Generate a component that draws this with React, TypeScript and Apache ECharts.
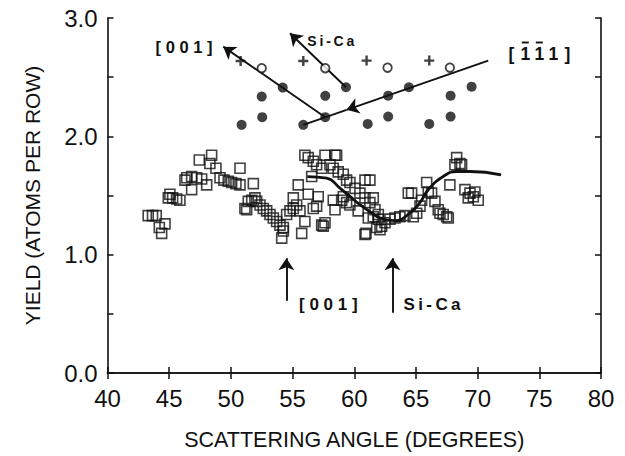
import React, { useEffect, useRef } from "react";
import * as echarts from "echarts";

// Measured channeling yield (open squares)
const squareX = [
  43.3, 43.65, 43.95, 44.2, 44.66, 44.39, 45.06, 45.28, 45.6, 45.87, 44.93, 46.82, 46.42, 46.82, 47.23, 47.63,
  48.04, 46.28, 47.44, 48.44, 48.3, 48.79, 50.74, 49.12, 49.44, 49.79, 50.06, 50.41, 50.74, 51.82, 51.14, 51.41,
  51.69, 51.95, 51.28, 52.09, 52.36, 52.63, 52.9, 53.17, 53.44, 53.71, 53.98, 54.25, 54.12, 54.25, 54.52, 54.79,
  55.06, 55.33, 55.6, 56.0, 55.74, 55.06, 55.46, 56.0, 56.27, 56.68, 56.95, 57.36, 57.63, 58.44, 58.57, 56.55,
  56.27, 56.68, 56.95, 57.08, 57.36, 57.63, 58.03, 58.3, 58.7, 59.11, 59.38, 59.65, 60.06, 60.46, 60.87, 61.27,
  61.68, 61.95, 60.87, 58.44, 58.3, 58.98, 59.11, 60.32, 61.14, 60.87, 59.38, 59.65, 61.27, 61.54, 61.54, 61.95,
  62.22, 62.49, 62.89, 63.3, 63.7, 64.11, 61.82, 62.09, 64.38, 64.65, 65.06, 64.78, 65.46, 65.87, 66.0, 66.27,
  66.54, 65.33, 66.81, 66.95, 67.21, 67.49, 67.62, 67.75, 68.3, 68.16, 68.57, 68.7, 68.97, 69.38, 69.78, 69.65,
  70.05, 69.24, 57.49, 60.95,
];
const squareY = [
  1.33, 1.33, 1.33, 1.23, 1.26, 1.18, 1.51, 1.48, 1.47, 1.46, 1.48, 1.55, 1.65, 1.66, 1.65, 1.64,
  1.59, 1.63, 1.8, 1.84, 1.77, 1.73, 1.73, 1.65, 1.63, 1.62, 1.61, 1.6, 1.59, 1.6, 1.39, 1.45,
  1.46, 1.48, 1.38, 1.45, 1.42, 1.39, 1.37, 1.34, 1.31, 1.28, 1.25, 1.23, 1.14, 1.2, 1.34, 1.37,
  1.39, 1.42, 1.37, 1.28, 1.18, 1.48, 1.59, 1.84, 1.82, 1.79, 1.76, 1.73, 1.84, 1.84, 1.84, 1.66,
  1.51, 1.39, 1.41, 1.49, 1.25, 1.27, 1.76, 1.73, 1.7, 1.68, 1.63, 1.61, 1.56, 1.52, 1.48, 1.44,
  1.38, 1.34, 1.63, 1.38, 1.46, 1.46, 1.49, 1.37, 1.31, 1.17, 1.44, 1.42, 1.63, 1.48, 1.32, 1.3,
  1.24, 1.27, 1.3, 1.31, 1.32, 1.33, 1.23, 1.21, 1.52, 1.52, 1.35, 1.32, 1.46, 1.61, 1.53, 1.52,
  1.45, 1.41, 1.38, 1.35, 1.34, 1.32, 1.31, 1.59, 1.82, 1.76, 1.77, 1.76, 1.55, 1.52, 1.53, 1.49,
  1.46, 1.48, 1.24, 1.18,
];

// Calculated curve (solid line)
const curveX = [56.2, 57.76, 58.84, 59.65, 60.46, 61.27, 62.08, 63.3, 64.51, 65.32, 66.0, 67.21, 68.3, 69.38, 71.9];
const curveY = [1.66, 1.647, 1.563, 1.492, 1.422, 1.363, 1.312, 1.287, 1.352, 1.439, 1.549, 1.661, 1.703, 1.703, 1.675];

// Upper panel: filled circles
const dotX = [50.87, 52.54, 52.5, 54.2, 55.87, 57.65, 57.65, 59.33, 61.09, 62.75, 62.75, 64.43, 66.08, 67.81, 67.81, 69.51];
const dotY = [2.097, 2.162, 2.336, 2.412, 2.097, 2.162, 2.342, 2.415, 2.105, 2.167, 2.344, 2.415, 2.105, 2.167, 2.344, 2.42];
// open circles
const openX = [52.5, 57.65, 62.7, 67.75];
const openY = [2.576, 2.576, 2.58, 2.58];
// plus signs
const plusX = [50.79, 55.87, 61.0, 66.08];
const plusY = [2.637, 2.637, 2.64, 2.64];

// Direction lines (start -> arrow end)
const arrowLines = [
  { name: "[001]", from: [57.65, 2.162], to: [49.38, 2.758], arrow: true },
  { name: "Si-Ca", from: [59.33, 2.415], to: [54.79, 2.871], arrow: true },
  { name: "[-1-11]", from: [70.86, 2.64], to: [59.38, 2.224], arrow: true },
  { name: "[-1-11] tail", from: [59.38, 2.224], to: [55.87, 2.097], arrow: false },
  { name: "[001] marker", from: [54.5, 0.61], to: [54.5, 0.97], arrow: true },
  { name: "Si-Ca marker", from: [63.1, 0.51], to: [63.1, 0.97], arrow: true },
];

// Annotation texts (anchor = text centre, in data units)
const labels = [
  { text: "[ 0 0 1 ]", at: [46.2, 2.757], size: 16.5 },
  { text: "S\u2009i\u2009-\u2009C\u2009a", at: [58.1, 2.806], size: 14 },
  { text: "[ 0 0 1 ]", at: [57.9, 0.58], size: 17 },
  { text: "S\u2009i\u2009-\u2009C\u2009a", at: [66.3, 0.58], size: 17 },
];
// [1̄1̄1] label: characters, and which ones carry an overbar
const millerChars = ["[", "1", "1", "1", "]"];
const millerBar = [false, true, true, false, false];
const millerAt = [75.0, 2.7];

const INK = "#111";
const FONT = "'Liberation Sans', Arial, Helvetica, sans-serif";

export default function App() {
  const ref = useRef<HTMLDivElement>(null);
  useEffect(() => {
    document.body.style.margin = "0";
    if (!ref.current) return;
    const chart = echarts.init(ref.current, undefined, { renderer: "svg" });
    const axisCommon = {
      axisLine: { show: true, lineStyle: { color: INK, width: 1.6 } },
      axisTick: { show: true, inside: true, length: 6, lineStyle: { color: INK, width: 1.5 } },
      splitLine: { show: false },
    };
    const arrowSeries = arrowLines.map((l) => ({
      type: "lines",
      coordinateSystem: "cartesian2d",
      xAxisIndex: 0,
      yAxisIndex: 0,
      symbol: l.arrow ? ["none", "arrow"] : ["none", "none"],
      symbolSize: l.arrow ? [9, 12] : 0,
      lineStyle: { color: INK, width: 1.9, opacity: 1 },
      itemStyle: { color: INK },
      data: [{ coords: [l.from, l.to] }],
      silent: true,
      z: 3,
    }));
    chart.setOption({
      animation: false,
      textStyle: { fontFamily: FONT },
      grid: { left: 107.5, right: 24, top: 18, bottom: 82.5 },
      xAxis: [
        {
          type: "value",
          min: 40,
          max: 80,
          interval: 5,
          position: "bottom",
          ...axisCommon,
          axisLabel: { fontSize: 24, color: INK, margin: 13, fontFamily: FONT },
          name: "SCATTERING ANGLE (DEGREES)",
          nameLocation: "middle",
          nameGap: 56,
          nameTextStyle: { fontSize: 21.5, color: INK, fontFamily: FONT },
        },
        {
          type: "value",
          min: 40,
          max: 80,
          interval: 5,
          position: "top",
          ...axisCommon,
          axisLabel: { show: false },
        },
      ],
      yAxis: [
        {
          type: "value",
          min: 0,
          max: 3,
          interval: 0.5,
          position: "left",
          ...axisCommon,
          axisLabel: {
            fontSize: 24,
            color: INK,
            margin: 10,
            fontFamily: FONT,
            formatter: (v: number) => (Math.abs(v - Math.round(v)) < 1e-6 ? v.toFixed(1) : ""),
          },
          name: "YIELD (ATOMS PER ROW)",
          nameLocation: "middle",
          nameGap: 65,
          nameTextStyle: { fontSize: 21, color: INK, fontFamily: FONT },
        },
        {
          type: "value",
          min: 0,
          max: 3,
          interval: 0.5,
          position: "right",
          ...axisCommon,
          axisLabel: { show: false },
        },
      ],
      series: [
        {
          type: "scatter",
          name: "data",
          symbol: "rect",
          symbolSize: 10,
          itemStyle: { color: "rgba(0,0,0,0)", borderColor: INK, borderWidth: 1.6 },
          data: squareX.map((x, i) => [x, squareY[i]]),
          z: 2,
        },
        {
          type: "line",
          name: "calc",
          smooth: 0.5,
          symbol: "none",
          lineStyle: { color: INK, width: 2.8 },
          data: curveX.map((x, i) => [x, curveY[i]]),
          z: 3,
        },
        {
          type: "scatter",
          name: "filled",
          symbol: "circle",
          symbolSize: 10,
          itemStyle: { color: INK },
          data: dotX.map((x, i) => [x, dotY[i]]),
          z: 4,
        },
        {
          type: "scatter",
          name: "open",
          symbol: "circle",
          symbolSize: 8.5,
          itemStyle: { color: "#fff", borderColor: INK, borderWidth: 1.8 },
          data: openX.map((x, i) => [x, openY[i]]),
          z: 4,
        },
        {
          type: "scatter",
          name: "plus",
          symbol: "path://M3.8 0H6.2V3.8H10V6.2H6.2V10H3.8V6.2H0V3.8H3.8Z",
          symbolSize: 10,
          itemStyle: { color: INK },
          data: plusX.map((x, i) => [x, plusY[i]]),
          z: 4,
        },
        ...arrowSeries,
      ],
    });

    const toPx = (p: number[]) => chart.convertToPixel({ gridIndex: 0 }, p) as number[];
    const graphics: any[] = labels.map((l) => {
      const [x, y] = toPx(l.at);
      return {
        type: "text",
        x,
        y,
        z: 10,
        style: {
          text: l.text,
          fontSize: l.size,
          fontWeight: "bold",
          fontFamily: FONT,
          fill: INK,
          align: "center",
          verticalAlign: "middle",
        },
      };
    });
    const [mx, my] = toPx(millerAt);
    const step = 14;
    const startX = mx - step * 2;
    millerChars.forEach((c, i) => {
      const cx = startX + i * step;
      graphics.push({
        type: "text",
        x: cx,
        y: my,
        z: 10,
        style: {
          text: c,
          fontSize: 17.5,
          fontWeight: "bold",
          fontFamily: FONT,
          fill: INK,
          align: "center",
          verticalAlign: "middle",
        },
      });
      if (millerBar[i]) {
        graphics.push({
          type: "line",
          z: 10,
          shape: { x1: cx - 3.5, y1: my - 11, x2: cx + 3.5, y2: my - 11 },
          style: { stroke: INK, lineWidth: 1.9 },
        });
      }
    });
    chart.setOption({ graphic: graphics });
    return () => chart.dispose();
  }, []);
  return <div ref={ref} style={{ width: 625, height: 456 }} />;
}
